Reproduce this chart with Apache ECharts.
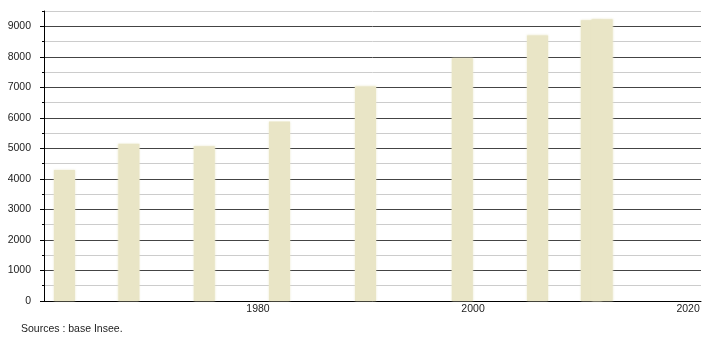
<!DOCTYPE html>
<html>
<head>
<meta charset="utf-8">
<script src="https://cdn.jsdelivr.net/npm/echarts@6/dist/echarts.min.js"></script>
<style>html,body{margin:0;padding:0;background:#fff}#c{width:710px;height:340px}</style>
</head>
<body>
<div id="c"></div>
<script>
var years = [1962, 1968, 1975, 1982, 1990, 1999, 2006, 2011, 2012];
var population = [4290, 5150, 5070, 5880, 7030, 7950, 8700, 9200, 9230];
var xLabels = [1980, 2000, 2020];
var yMajor = [0, 1000, 2000, 3000, 4000, 5000, 6000, 7000, 8000, 9000];
var sourceText = 'Sources : base Insee.';

var font = 'Liberation Sans, Arial, sans-serif';
var chart = echarts.init(document.getElementById('c'));
chart.setOption({
  animation: false,
  backgroundColor: '#fff',
  grid: { left: 44, right: 9, top: 11, bottom: 39 },
  xAxis: {
    type: 'value', min: 1960.1, max: 2021.2,
    axisLine: { show: true, onZero: false, lineStyle: { color: '#000', width: 1 } },
    axisTick: { show: false },
    splitLine: { show: false },
    axisLabel: {
      customValues: xLabels, color: '#222', fontFamily: font, fontSize: 10.5, margin: 3,
      formatter: function (v) { return String(v); }
    }
  },
  yAxis: [{
    type: 'value', min: 0, max: 9500, interval: 500,
    axisLine: { show: true, lineStyle: { color: '#000', width: 1 } },
    axisTick: { show: true, length: 2, lineStyle: { color: '#000' } },
    splitLine: { show: true, lineStyle: { color: ['#444', '#cccccc'], width: 1 } },
    axisLabel: {
      color: '#222', fontFamily: font, fontSize: 10.5, margin: 13,
      formatter: function (v) { return v % 1000 === 0 ? String(v) : ''; }
    }
  }, {
    type: 'value', min: 0, max: 9500, position: 'left',
    axisLine: { show: false },
    axisTick: { show: true, length: 4, customValues: yMajor, lineStyle: { color: '#000' } },
    splitLine: { show: false },
    axisLabel: { show: false }
  }],
  graphic: [{
    type: 'text', left: 21, top: 324,
    style: { text: sourceText, fill: '#222', font: '10.5px ' + font }
  }],
  series: [{
    type: 'bar',
    yAxisIndex: 0,
    barWidth: 21,
    data: years.map(function (y, i) { return [y, population[i]]; }),
    itemStyle: { color: '#e9e5c6', shadowBlur: 2, shadowColor: 'rgba(233,229,198,0.9)' }
  }]
});
</script>
</body>
</html>
